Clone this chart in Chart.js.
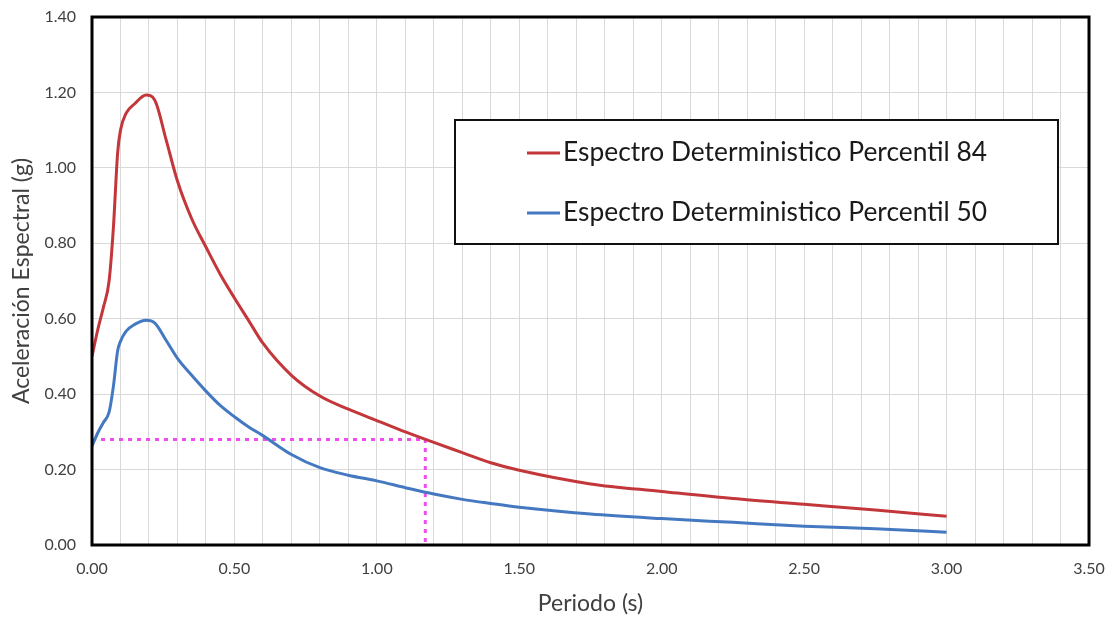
<!DOCTYPE html>
<html>
<head>
<meta charset="utf-8">
<script src="https://cdn.jsdelivr.net/npm/chart.js@4.4.1/dist/chart.umd.min.js"></script>
<style>
  html, body { margin: 0; padding: 0; background: #ffffff; }
  #wrap { width: 1113px; height: 617px; }
</style>
</head>
<body>
<div id="wrap"><canvas id="c" width="1113" height="617"></canvas></div>
<script>
// ---- Data ----
const periods = [0, 0.02, 0.04, 0.06, 0.075, 0.09, 0.10, 0.12, 0.15, 0.19, 0.22, 0.26, 0.30, 0.35, 0.40, 0.45, 0.50, 0.55, 0.60, 0.70, 0.80, 0.90, 1.00, 1.10, 1.20, 1.30, 1.40, 1.50, 1.75, 2.00, 2.25, 2.50, 2.75, 3.00];
const p84 = [0.50, 0.57, 0.63, 0.70, 0.84, 1.04, 1.10, 1.145, 1.17, 1.193, 1.18, 1.075, 0.965, 0.865, 0.79, 0.718, 0.655, 0.595, 0.535, 0.45, 0.395, 0.36, 0.33, 0.30, 0.272, 0.245, 0.218, 0.198, 0.162, 0.142, 0.123, 0.108, 0.093, 0.076];
const p50 = [0.262, 0.297, 0.325, 0.352, 0.42, 0.515, 0.54, 0.567, 0.585, 0.596, 0.589, 0.543, 0.495, 0.45, 0.408, 0.37, 0.34, 0.313, 0.29, 0.24, 0.205, 0.185, 0.17, 0.152, 0.135, 0.121, 0.11, 0.10, 0.082, 0.07, 0.06, 0.05, 0.043, 0.034];
const guideX = [0, 1.17, 1.17];
const guideY = [0.28, 0.28, 0];
const seriesLabels = ['Espectro Deterministico Percentil 84', 'Espectro Deterministico Percentil 50'];
const xTitle = 'Periodo (s)';
const yTitle = 'Aceleración Espectral (g)';

const RED = '#C3373A';
const BLUE = '#4479C2';
const PINK = '#F04CF0';
const FONT = 'Lato, "Open Sans", sans-serif';

const toPts = (xs, ys) => xs.map((x, i) => ({ x: x, y: ys[i] }));

// Frame + legend plugin
const framePlugin = {
  id: 'frameLegend',
  afterDraw(chart) {
    const ctx = chart.ctx;
    const a = chart.chartArea;
    ctx.save();
    // plot frame
    ctx.strokeStyle = '#000';
    ctx.lineWidth = 3;
    ctx.strokeRect(a.left, a.top, a.right - a.left, a.bottom - a.top);

    // legend box (inside plot area, upper right)
    const bx = a.left + 363, by = a.top + 103, bw = 603, bh = 124;
    ctx.fillStyle = '#fff';
    ctx.fillRect(bx, by, bw, bh);
    ctx.lineWidth = 2;
    ctx.strokeStyle = '#111';
    ctx.strokeRect(bx, by, bw, bh);

    const colors = [RED, BLUE];
    const rows = [by + 33, by + 93];
    ctx.font = '26px ' + FONT;
    ctx.textBaseline = 'middle';
    ctx.textAlign = 'left';
    const targetW = 424;
    seriesLabels.forEach((lab, i) => {
      const y = rows[i];
      ctx.strokeStyle = colors[i];
      ctx.lineWidth = 3;
      ctx.beginPath();
      ctx.moveTo(bx + 72, y);
      ctx.lineTo(bx + 105, y);
      ctx.stroke();
      const w = ctx.measureText(lab).width;
      ctx.save();
      ctx.translate(bx + 108, y);
      ctx.scale(targetW / w, 1);
      ctx.fillStyle = '#1a1a1a';
      ctx.fillText(lab, 0, 0);
      ctx.restore();
    });
    ctx.restore();
  }
};

new Chart(document.getElementById('c'), {
  type: 'line',
  data: {
    datasets: [
      { label: seriesLabels[0], data: toPts(periods, p84), borderColor: RED, borderWidth: 3, pointRadius: 0, cubicInterpolationMode: 'monotone', fill: false },
      { label: seriesLabels[1], data: toPts(periods, p50), borderColor: BLUE, borderWidth: 3, pointRadius: 0, cubicInterpolationMode: 'monotone', fill: false },
      { label: 'guide', data: toPts(guideX, guideY), borderColor: PINK, borderWidth: 3, borderDash: [4, 5], pointRadius: 0, tension: 0, fill: false }
    ]
  },
  options: {
    responsive: false,
    animation: false,
    layout: { padding: { left: 0, top: 17, right: 24, bottom: 0 } },
    plugins: {
      legend: { display: false },
      tooltip: { enabled: false }
    },
    scales: {
      x: {
        type: 'linear',
        min: 0, max: 3.5,
        afterFit(s) { s.height = 72; s.paddingLeft = 0; s.paddingRight = 0; },
        grid: { color: '#d9d9d9', lineWidth: 1, drawTicks: false },
        border: { display: false },
        ticks: {
          stepSize: 0.1,
          autoSkip: false,
          maxRotation: 0,
          padding: 14,
          color: '#404040',
          font: { family: FONT, size: 16 },
          callback(v) {
            const r = Math.round(v * 2);
            return Math.abs(v * 2 - r) < 1e-6 ? (r / 2).toFixed(2) : '';
          }
        },
        title: { display: true, text: xTitle, color: '#404040', font: { family: FONT, size: 23 }, padding: { top: 2, bottom: 0 } }
      },
      y: {
        min: 0, max: 1.4,
        afterFit(s) { s.width = 92; s.paddingTop = 0; s.paddingBottom = 0; },
        grid: { color: '#d9d9d9', lineWidth: 1, drawTicks: false },
        border: { display: false },
        ticks: {
          stepSize: 0.2,
          padding: 16,
          color: '#404040',
          font: { family: FONT, size: 16 },
          callback(v) { return Number(v).toFixed(2); }
        },
        title: { display: true, text: yTitle, color: '#404040', font: { family: FONT, size: 23 }, padding: { top: 8, bottom: 4 } }
      }
    }
  },
  plugins: [framePlugin]
});
</script>
</body>
</html>
